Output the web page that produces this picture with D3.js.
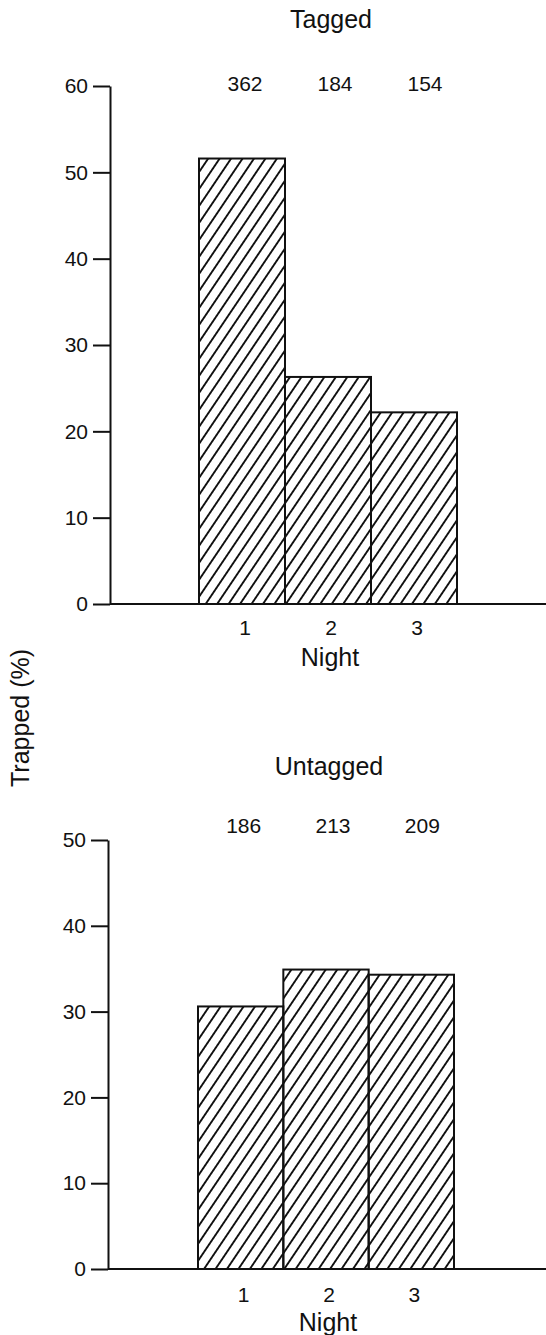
<!DOCTYPE html>
<html>
<head>
<meta charset="utf-8">
<script src="https://cdn.jsdelivr.net/npm/d3@7"></script>
<style>
  html, body { margin: 0; padding: 0; background: #fff; }
  svg { display: block; }
</style>
</head>
<body>
<div id="chart"></div>
<script>
// nights on the x axis
const nights = [1, 2, 3];

// Tagged: % trapped per night and n above each bar
const taggedPct = [51.6, 26.3, 22.2];
const taggedN = [362, 184, 154];
const taggedTicks = [0, 10, 20, 30, 40, 50, 60];

// Untagged
const untaggedPct = [30.6, 34.9, 34.3];
const untaggedN = [186, 213, 209];
const untaggedTicks = [0, 10, 20, 30, 40, 50];

(function() {
    const config = {
        width: 546,
        height: 1335,
        ink: "#111",
        font: '"Liberation Sans", Arial, Helvetica, sans-serif',
        tickFont: "21px",
        labelFont: "25px"
    };

    // panel layout (pixels)
    const panels = [
        { title: "Tagged", pct: taggedPct, n: taggedN, ticks: taggedTicks,
          y0: 604, y1: 86, axisX: 110, barL: 199, barR: 457,
          titleY: 28, countY: 91, nightTickY: 635, nightLabelY: 666 },
        { title: "Untagged", pct: untaggedPct, n: untaggedN, ticks: untaggedTicks,
          y0: 1269, y1: 840, axisX: 108, barL: 198, barR: 454,
          titleY: 775, countY: 833, nightTickY: 1302, nightLabelY: 1331 }
    ];

    const svg = d3.select("#chart").append("svg")
        .attr("width", config.width)
        .attr("height", config.height);

    // diagonal hatching "/"
    svg.append("defs").append("pattern")
        .attr("id", "hatch")
        .attr("patternUnits", "userSpaceOnUse")
        .attr("width", 9.5)
        .attr("height", 9.5)
        .attr("patternTransform", "rotate(34)")
        .append("line")
        .attr("x1", 4.75).attr("y1", 0)
        .attr("x2", 4.75).attr("y2", 9.5)
        .attr("stroke", config.ink)
        .attr("stroke-width", 1.9);

    panels.forEach(drawPanel);

    // shared y label
    svg.append("text")
        .attr("transform", "translate(29,718) rotate(-90)")
        .attr("text-anchor", "middle")
        .attr("font-family", config.font)
        .attr("font-size", config.labelFont)
        .attr("fill", config.ink)
        .text("Trapped (%)");

    function drawPanel(p) {
        const y = d3.scaleLinear()
            .domain([0, d3.max(p.ticks)])
            .range([p.y0, p.y1]);

        const x = d3.scaleBand()
            .domain(nights)
            .range([p.barL, p.barR])
            .padding(0);

        const g = svg.append("g");

        // bars
        g.selectAll(".bar")
            .data(nights)
            .enter().append("rect")
            .attr("x", d => x(d))
            .attr("y", (d, i) => y(p.pct[i]))
            .attr("width", x.bandwidth())
            .attr("height", (d, i) => y(0) - y(p.pct[i]))
            .attr("fill", "url(#hatch)")
            .attr("stroke", config.ink)
            .attr("stroke-width", 2);

        // y axis
        const yAxis = g.append("g")
            .attr("transform", `translate(${p.axisX},0)`)
            .call(d3.axisLeft(y).tickValues(p.ticks).tickSize(17).tickSizeOuter(0).tickPadding(5));
        yAxis.select(".domain").attr("stroke", config.ink).attr("stroke-width", 2);
        yAxis.selectAll(".tick line").attr("stroke", config.ink).attr("stroke-width", 2);
        yAxis.selectAll(".tick text")
            .attr("font-family", config.font)
            .attr("font-size", config.tickFont)
            .attr("fill", config.ink);

        // baseline
        g.append("line")
            .attr("x1", p.axisX).attr("x2", config.width)
            .attr("y1", y(0)).attr("y2", y(0))
            .attr("stroke", config.ink)
            .attr("stroke-width", 2);

        // night tick labels
        g.selectAll(".night")
            .data(nights)
            .enter().append("text")
            .attr("x", d => x(d) + x.bandwidth() / 2 + 3)
            .attr("y", p.nightTickY)
            .attr("text-anchor", "middle")
            .attr("font-family", config.font)
            .attr("font-size", config.tickFont)
            .attr("fill", config.ink)
            .text(d => d);

        const mid = (p.barL + p.barR) / 2;

        g.append("text")
            .attr("x", mid + 2)
            .attr("y", p.nightLabelY)
            .attr("text-anchor", "middle")
            .attr("font-family", config.font)
            .attr("font-size", config.labelFont)
            .attr("fill", config.ink)
            .text("Night");

        // counts above bars
        g.selectAll(".count")
            .data(nights)
            .enter().append("text")
            .attr("x", (d, i) => x(d) + x.bandwidth() / 2 + 3 + i * 4)
            .attr("y", p.countY)
            .attr("text-anchor", "middle")
            .attr("font-family", config.font)
            .attr("font-size", config.tickFont)
            .attr("fill", config.ink)
            .text((d, i) => p.n[i]);

        // title
        g.append("text")
            .attr("x", mid + 3)
            .attr("y", p.titleY)
            .attr("text-anchor", "middle")
            .attr("font-family", config.font)
            .attr("font-size", config.labelFont)
            .attr("fill", config.ink)
            .text(p.title);
    }
})();
</script>
</body>
</html>
